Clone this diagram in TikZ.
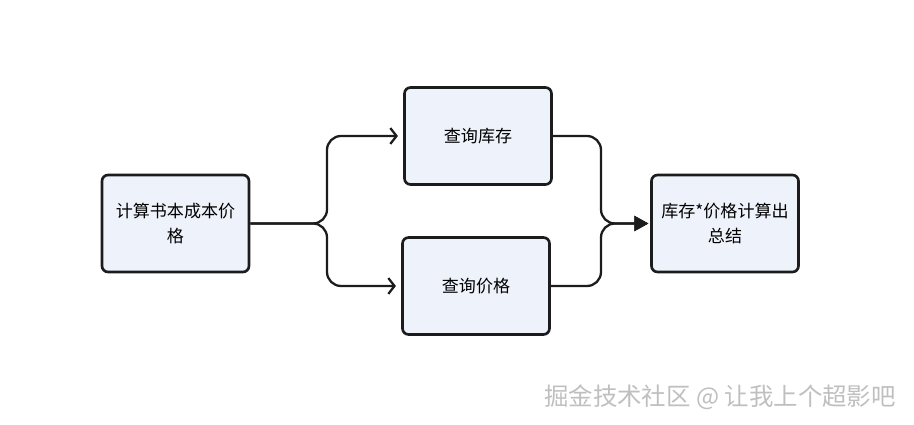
\documentclass[tikz,border=0pt]{standalone}
\usepackage{fontspec}
\setmainfont{Noto Sans CJK SC}
\usetikzlibrary{arrows.meta, positioning}
\definecolor{boxfill}{RGB}{238,242,250}
\definecolor{boxline}{RGB}{28,28,28}
\tikzstyle{rect} = [draw=boxline, line width=1.5pt, rectangle, rounded corners=0.12cm, fill=boxfill, minimum width=2.94cm, minimum height=1.94cm, align=center, font=\fontsize{9.7}{14.2}\selectfont]
\tikzstyle{line} = [draw=boxline, line width=1.3pt, rounded corners=0.28cm]
\tikzstyle{openarrow} = [-{Straight Barb[length=3.5pt, width=9pt]}, shorten >=3pt]
\tikzstyle{fillarrow} = [-{Triangle[length=8pt, width=8.5pt]}, shorten >=1pt]

\begin{document}
\begin{tikzpicture}[x=0.02cm, y=-0.02cm]
	\useasboundingbox (0,0) rectangle (914,425);
	\node [rect] (calc) at (175.5,223.5) {计算书本成本价\\格};
	\node [rect] (stock) at (478,136) {查询库存};
	\node [rect] (price) at (476,286) {查询价格};
	\node [rect] (sum) at (725,223.5) {库存*价格计算出\\总结};
	\node [font=\fontsize{13.9}{16}\selectfont, text=gray!50] (mark) at (720,397) {掘金技术社区 @ 让我上个超影吧};
	
	\coordinate (split) at (327,223.5);
	\coordinate (merge) at (601,223.5);
	
	\path [line, openarrow] (calc.east) -- (split) -- (split |- stock.west) -- (stock.west);
	\path [line, openarrow] (calc.east) -- (split) -- (split |- price.west) -- (price.west);
	\path [line, fillarrow] (stock.east) -- (merge |- stock.east) -- (merge) -- (sum.west);
	\path [line, fillarrow] (price.east) -- (merge |- price.east) -- (merge) -- (sum.west);
\end{tikzpicture}
\end{document}
